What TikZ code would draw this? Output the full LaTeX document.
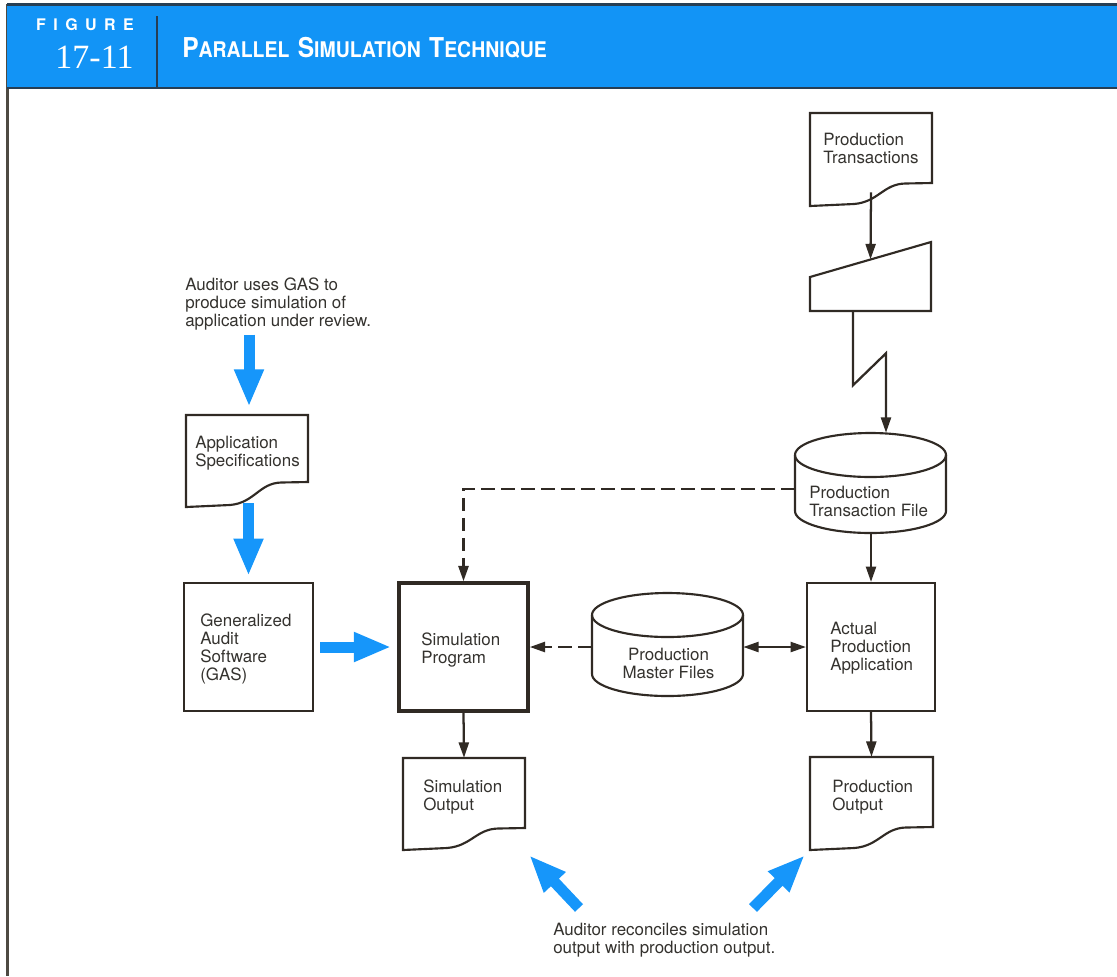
\documentclass[tikz,border=0pt]{standalone}
\usepackage{fontspec}
\setmainfont{TeX Gyre Heros}
\newfontfamily\numfont{Liberation Serif}
\usetikzlibrary{arrows.meta,calc}

\definecolor{hdrblue}{RGB}{18,148,246}
\definecolor{arrblue}{RGB}{22,150,250}
\definecolor{ink}{RGB}{48,42,36}
\definecolor{txt}{RGB}{52,50,46}
\definecolor{hdrrule}{RGB}{38,62,84}
\definecolor{frame}{RGB}{78,74,66}

\tikzset{
  hold/.style 2 args={minimum width=(#1)*0.75pt,minimum height=(#2)*0.75pt,inner sep=0pt},
  box/.style={draw=ink,line width=1.6pt},
  outline/.style={draw=ink,line width=1.6pt,line join=miter},
  label/.style={anchor=north west,align=left,inner sep=0pt,text=txt,
    font=\fontsize{12.7pt}{13.5pt}\selectfont},
  flow/.style={draw=ink,line width=1.7pt,->},
  dflow/.style={flow,line width=1.9pt,dash pattern=on 10pt off 5pt},
  bigarrow/.style={draw=arrblue,line width=8.25pt,line cap=butt,
    -{Triangle[length=28pt,width=20.5pt]}},
}

% document symbol: name, left, top, right, bottom at right edge, bottom at left edge
\newcommand\docshape[6]{%
  \pgfmathsetmacro\dshW{#4-#2}%
  \node[hold={\dshW}{#6-#3}] (#1) at ({(#2+#4)/2},{(#3+#6)/2}) {};%
  \draw[outline] (#2,#3) -- (#4,#3) -- (#4,#5) -- ({#2+0.78*\dshW},{#5+0.5})
    .. controls ({#2+0.6*\dshW},{#5+1}) and ({#2+0.56*\dshW},{#6-4}) .. ({#2+0.36*\dshW},{#6-2})
    .. controls ({#2+0.18*\dshW},{#6-0.5}) .. (#2,#6) -- cycle;%
}
% disk storage symbol: name, left, top, right, bottom, cap radius
\newcommand\cylshape[6]{%
  \pgfmathsetmacro\cylRx{(#4-#2)/2*0.75}\pgfmathsetmacro\cylRy{#6*0.75}%
  \node[hold={#4-#2}{#5-#3}] (#1) at ({(#2+#4)/2},{(#3+#5)/2}) {};%
  \draw[outline] (#2,{#3+#6}) -- (#2,{#5-#6})
    arc[start angle=180,end angle=360,x radius=\cylRx pt,y radius=\cylRy pt] -- (#4,{#3+#6});%
  \draw[outline] ({(#2+#4)/2},{#3+#6}) ellipse[x radius=\cylRx pt,y radius=\cylRy pt];%
}
\newcommand\capbig[1]{{\fontsize{20.5pt}{22pt}\selectfont #1}}
\newcommand\capsml[1]{{\fontsize{16.2pt}{18pt}\selectfont #1}}

\begin{document}
\begin{tikzpicture}[x=0.75pt,y=-0.75pt,>={Triangle[length=11.5pt,width=7.5pt]}]
\useasboundingbox (0,0) rectangle (1117,976);

% frame and title band
\draw[frame,line width=1.6pt] (7.5,4) -- (7.5,976);
\fill[hdrblue] (7,4) rectangle (1117,89);
\draw[hdrrule,line width=1.6pt] (7,4.5) -- (1117,4.5);
\draw[hdrrule,line width=1.6pt] (7,88) -- (1117,88);
\draw[hdrrule,line width=2pt] (157,16) -- (157,88);
\node[anchor=base,inner sep=0pt,text=white,font=\bfseries\fontsize{12pt}{14pt}\selectfont]
  (figword) at (85,30) {F\kern5.6pt I\kern5.6pt G\kern5.6pt U\kern5.6pt R\kern5.6pt E};
\node[anchor=base,inner sep=0pt,text=white,font=\numfont\fontsize{25.5pt}{27pt}\selectfont]
  (fignum) at (94.5,68) {17-11};
\node[anchor=base west,inner sep=0pt,text=white,font=\bfseries]
  (figtitle) at (182,57) {\scalebox{0.9}[1]{\capbig{P}\capsml{ARALLEL}\kern7pt\capbig{S}\capsml{IMULATION}\kern7pt\capbig{T}\capsml{ECHNIQUE}}};

% symbols
\docshape{ptx}{810}{113}{932}{183}{206}
\node[hold={121}{69}] (mi) at (870.5,276.5) {};
\draw[outline] (810,277) -- (931,242) -- (931,311) -- (810,311) -- cycle;
\cylshape{ptf}{795}{433}{946}{533}{22}
\docshape{as}{186}{415}{308}{482}{507}
\node[box,hold={129}{128}] (gas) at (248.5,647) {};
\node[box,line width=2.6pt,hold={129}{128}] (sp) at (463.5,647) {};
\cylshape{pmf}{592}{593}{743}{696}{22}
\node[box,hold={128}{128}] (apa) at (871,647) {};
\docshape{so}{403}{758}{525}{828}{850}
\docshape{po}{810}{757}{933}{827}{850}

% labels
\node[label] (ptxt) at (823,133) {Production\\Transactions};
\node[label] (ptft) at (809,486) {Production\\Transaction File};
\node[label] (ast) at (195,436) {Application\\Specifications};
\node[label] (gast) at (200,614) {Generalized\\Audit\\Software\\(GAS)};
\node[label] (spt) at (421,633) {Simulation\\Program};
\node[label,anchor=north,align=center] (pmft) at (668.5,648) {Production\\Master Files};
\node[label] (apat) at (830,622) {Actual\\Production\\Application};
\node[label] (sot) at (423,780) {Simulation\\Output};
\node[label] (pot) at (832,780) {Production\\Output};
\node[label] (n1) at (185,278) {Auditor uses GAS to\\produce simulation of\\application under review.};
\node[label] (n2) at (553,923) {Auditor reconciles simulation\\output with production output.};

% data flow
\draw[flow] ($(ptx.south)+(0,-14)$) -- ($(mi.north)+(0,17.5)$);
\draw[flow] ($(mi.south)+(-17.5,0)$) -- ++(0,74) -- ++(33,-32) -- ($(ptf.north)+(15.5,0)$);
\draw[flow] (ptf.south -| apa.north) -- (apa.north);
\draw[dflow] ($(ptf.west)+(0,6)$) -| (sp.north);
\draw[dflow] (pmf.west |- sp.east) -- (sp.east);
\draw[flow,<->] (pmf.east |- apa.west) -- (apa.west);
\draw[flow] (sp.south) -- (so.north);
\draw[flow] (apa.south) -- (po.north);

% auditor steps
\draw[bigarrow] ($(as.north)+(2,-80)$) -- ($(as.north)+(2,-8)$);
\draw[bigarrow] ($(gas.north |- as.south)+(0,-4)$) -- ($(gas.north)+(0,-6)$);
\draw[bigarrow] ($(gas.east)+(6,0)$) -- ($(sp.west)+(-6,0)$);
\draw[bigarrow] ($(n2.north west)+(26,-15)$) -- ($(so.south east)+(4,5)$);
\draw[bigarrow] ($(n2.north west)+(200,-15)$) -- ($(po.south west)+(-5,5)$);
\end{tikzpicture}
\end{document}
